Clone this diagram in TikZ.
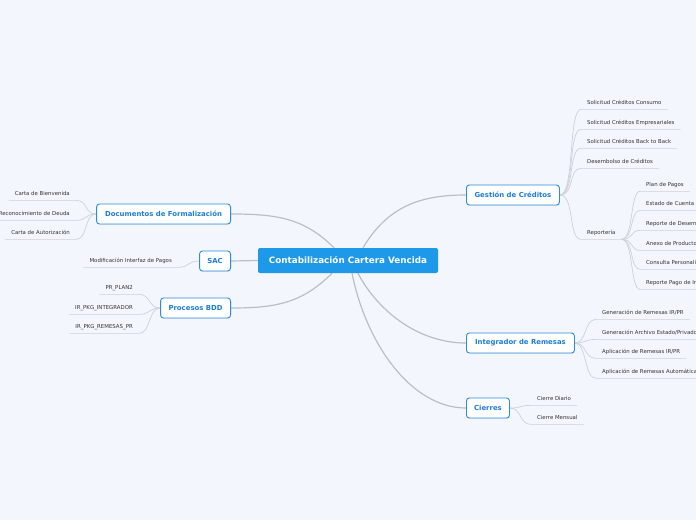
\documentclass[tikz,border=0pt]{standalone}
\usepackage{fontspec}
\setmainfont{DejaVu Sans}
\usetikzlibrary{shadows}
\definecolor{bgc}{HTML}{F3F6FD}
\definecolor{centralc}{HTML}{1E98E8}
\definecolor{topicb}{HTML}{2A8BE0}
\definecolor{topict}{HTML}{1C7DD8}
\definecolor{mainline}{HTML}{BBBEC4}
\definecolor{leafline}{HTML}{CDD1D9}
\definecolor{leaftext}{HTML}{333333}
\pgfdeclarelayer{bglayer}
\pgfdeclarelayer{lineslayer}
\pgfsetlayers{bglayer,lineslayer,main}
\tikzset{
  central/.style={fill=centralc, text=white, font=\bfseries\fontsize{8.8}{10}\selectfont,
    rounded corners=2pt, minimum width=180pt, minimum height=25pt, inner sep=0pt},
  topic/.style={fill=white, draw=topicb, line width=0.9pt, text=topict,
    font=\bfseries\fontsize{6.9}{8}\selectfont, rounded corners=3pt,
    minimum height=20pt, inner xsep=0pt, inner ysep=0pt,
    drop shadow={opacity=0.12, shadow xshift=0.6pt, shadow yshift=-0.9pt}},
  leaf/.style={font=\fontsize{5.4}{6.4}\selectfont, text=leaftext, inner xsep=6pt,
    inner ysep=3.5pt, text height=4.2pt, text depth=1.1pt},
  mline/.style={draw=mainline, line width=1.2pt},
  lline/.style={draw=leafline, line width=0.7pt}
}
\begin{document}
\begin{tikzpicture}[x=1pt,y=-1pt]
\useasboundingbox (0,0) rectangle (696,520);
\begin{pgfonlayer}{bglayer}
\fill[bgc] (0,0) rectangle (696,520);
\end{pgfonlayer}
\clip (0,0) rectangle (696,520);

% central and topics
\node[central] (c) at (348,260.5) {Contabilización Cartera Vencida};
\node[topic, anchor=west, minimum width=93pt] (gest) at (466,195) {Gestión de Créditos};
\node[topic, anchor=east, minimum width=134pt] (doc) at (231,214) {Documentos de Formalización};
\node[topic, anchor=east, minimum width=31pt] (sac) at (231,261) {SAC};
\node[topic, anchor=east, minimum width=70pt] (proc) at (231,308) {Procesos BDD};
\node[topic, anchor=west, minimum width=108pt] (integ) at (466,343) {Integrador de Remesas};
\node[topic, anchor=west, minimum width=43pt] (cier) at (466,408) {Cierres};

% leaves of Gestión
\node[leaf, anchor=west] (g1) at (581,103) {Solicitud Créditos Consumo};
\node[leaf, anchor=west] (g2) at (581,123) {Solicitud Créditos Empresariales};
\node[leaf, anchor=west] (g3) at (581,142) {Solicitud Créditos Back to Back};
\node[leaf, anchor=west] (g4) at (581,162) {Desembolso de Créditos};
\node[leaf, anchor=west] (rep) at (581,233) {Reportería};
% Reportería children
\node[leaf, anchor=west] (r1) at (640,185) {Plan de Pagos};
\node[leaf, anchor=west] (r2) at (640,204) {Estado de Cuenta};
\node[leaf, anchor=west] (r3) at (640,224) {Reporte de Desembolsos};
\node[leaf, anchor=west] (r4) at (640,244) {Anexo de Productos};
\node[leaf, anchor=west] (r5) at (640,263) {Consulta Personalizada};
\node[leaf, anchor=west] (r6) at (640,283) {Reporte Pago de Intereses};
% Integrador leaves
\node[leaf, anchor=west] (i1) at (596,313) {Generación de Remesas IR/PR};
\node[leaf, anchor=west] (i2) at (596,333) {Generación Archivo Estado/Privado};
\node[leaf, anchor=west] (i3) at (596,352) {Aplicación de Remesas IR/PR};
\node[leaf, anchor=west] (i4) at (596,372) {Aplicación de Remesas Automáticas};
% Cierres leaves
\node[leaf, anchor=west] (k1) at (531,399) {Cierre Diario};
\node[leaf, anchor=west] (k2) at (531,418) {Cierre Mensual};
% Documentos leaves
\node[leaf, anchor=east] (d1) at (76,194) {Carta de Bienvenida};
\node[leaf, anchor=east] (d2) at (76,214) {Reconocimiento de Deuda};
\node[leaf, anchor=east] (d3) at (76,233) {Carta de Autorización};
% SAC leaf
\node[leaf, anchor=east] (s1) at (178,261) {Modificación Interfaz de Pagos};
% Procesos leaves
\node[leaf, anchor=east] (p1) at (139,288) {PR\_PLAN2};
\node[leaf, anchor=east] (p2) at (139,308) {IR\_PKG\_INTEGRADOR};
\node[leaf, anchor=east] (p3) at (139,327) {IR\_PKG\_REMESAS\_PR};

\begin{pgfonlayer}{lineslayer}
% main connectors
\draw[mline] ([xshift=15pt]c.north) .. controls +(25,-42) and +(-45,0) .. (gest.west);
\draw[mline] ([xshift=-14pt]c.north) .. controls +(-30,-30) and +(45,0) .. (doc.east);
\draw[mline] (c.west) -- (sac.east);
\draw[mline] ([xshift=-16pt]c.south) .. controls +(-30,30) and +(45,0) .. (proc.east);
\draw[mline] ([xshift=10pt]c.south) .. controls +(18,35) and +(-50,0) .. (integ.west);
\draw[mline] ([xshift=4pt]c.south) .. controls +(14,70) and +(-55,0) .. (cier.west);
% right leaves
\foreach \n in {g1,g2,g3,g4,rep}
  \draw[lline] (gest.east) .. controls +(15,0) and +(-13,0) .. (\n.south west) -- (\n.south east);
\foreach \n in {r1,r2,r3,r4,r5,r6}
  \draw[lline] (rep.south east) .. controls +(12,0) and +(-10,0) .. (\n.south west) -- (\n.south east);
\foreach \n in {i1,i2,i3,i4}
  \draw[lline] (integ.east) .. controls +(12,0) and +(-12,0) .. (\n.south west) -- (\n.south east);
\foreach \n in {k1,k2}
  \draw[lline] (cier.east) .. controls +(12,0) and +(-12,0) .. (\n.south west) -- (\n.south east);
% left leaves
\foreach \n in {d1,d2,d3}
  \draw[lline] (doc.west) .. controls +(-12,0) and +(12,0) .. (\n.south east) -- (\n.south west);
\draw[lline] (sac.west) .. controls +(-12,0) and +(12,0) .. (s1.south east) -- (s1.south west);
\foreach \n in {p1,p2,p3}
  \draw[lline] (proc.west) .. controls +(-12,0) and +(12,0) .. (\n.south east) -- (\n.south west);
\end{pgfonlayer}
\end{tikzpicture}
\end{document}
